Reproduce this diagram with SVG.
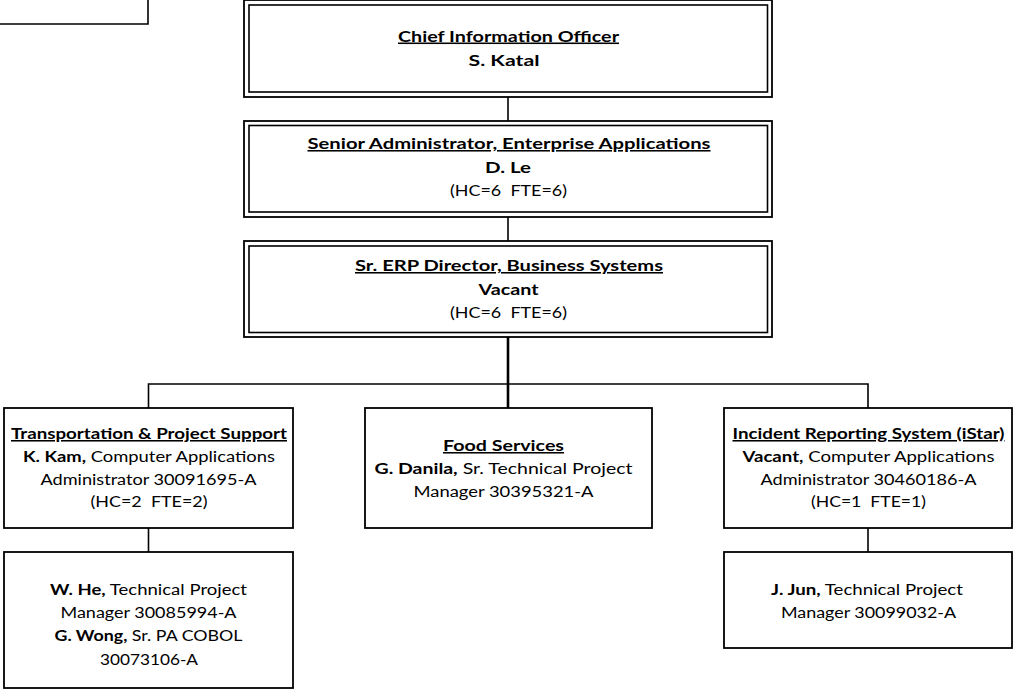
<svg xmlns="http://www.w3.org/2000/svg" width="1013" height="697" viewBox="0 0 1013 697">
<style>
.bx{fill:#fff;stroke:#000;stroke-width:1.8}
.in{fill:none;stroke:#000;stroke-width:1.6}
.cn{fill:none;stroke:#000;stroke-width:1.6}
.tk{fill:none;stroke:#000;stroke-width:2.6}
text{font-family:Lato,"Liberation Sans",sans-serif;font-size:15.5px;fill:#000;text-anchor:middle;white-space:pre}
.b{font-weight:bold}
.u{font-weight:bold;text-decoration:underline}
</style>
<rect width="1013" height="697" fill="#fff"/>
<g id="connectors">
<line class="cn" x1="508" y1="97" x2="508" y2="121"/>
<line class="cn" x1="508" y1="217" x2="508" y2="241"/>
<line class="tk" x1="508" y1="337" x2="508" y2="408"/>
<polyline class="cn" points="148.5,408 148.5,384 868,384 868,408"/>
<line class="cn" x1="148.5" y1="528" x2="148.5" y2="552"/>
<line class="cn" x1="868" y1="528" x2="868" y2="552"/>
</g>
<g id="partial-box">
<polyline class="cn" points="0,24 148,24 148,0"/>
</g>
<g id="cio">
<rect class="bx" x="244" y="0" width="528" height="97"/>
<rect class="in" x="249" y="5" width="518.5" height="87"/>
<text x="508.5" y="41.5" class="u" textLength="221" lengthAdjust="spacingAndGlyphs">Chief Information Officer</text>
<text x="504" y="66" class="b" textLength="71" lengthAdjust="spacingAndGlyphs">S. Katal</text>
</g>
<g id="senior-admin">
<rect class="bx" x="244" y="121" width="528" height="96"/>
<rect class="in" x="249" y="125.5" width="518.5" height="86.5"/>
<text x="509" y="149" class="u" textLength="403" lengthAdjust="spacingAndGlyphs">Senior Administrator, Enterprise Applications</text>
<text x="508" y="173" class="b" textLength="46" lengthAdjust="spacingAndGlyphs">D. Le</text>
<text x="508.5" y="196" textLength="117" lengthAdjust="spacingAndGlyphs">(HC=6  FTE=6)</text>
</g>
<g id="erp-director">
<rect class="bx" x="244" y="241" width="528" height="96"/>
<rect class="in" x="249" y="246" width="518.5" height="86.5"/>
<text x="509" y="271" class="u" textLength="308" lengthAdjust="spacingAndGlyphs">Sr. ERP Director, Business Systems</text>
<text x="508.5" y="295" class="b" textLength="60" lengthAdjust="spacingAndGlyphs">Vacant</text>
<text x="508.5" y="318" textLength="117" lengthAdjust="spacingAndGlyphs">(HC=6  FTE=6)</text>
</g>
<g id="transportation">
<rect class="bx" x="4" y="408" width="289" height="120"/>
<text x="149" y="439" class="u" textLength="276" lengthAdjust="spacingAndGlyphs">Transportation &amp; Project Support</text>
<text x="149" y="461.5" textLength="252" lengthAdjust="spacingAndGlyphs"><tspan class="b">K. Kam,</tspan> Computer Applications</text>
<text x="148.5" y="484.5" textLength="216" lengthAdjust="spacingAndGlyphs">Administrator 30091695-A</text>
<text x="149" y="507" textLength="117" lengthAdjust="spacingAndGlyphs">(HC=2  FTE=2)</text>
</g>
<g id="food-services">
<rect class="bx" x="365" y="408" width="287" height="120"/>
<text x="503.5" y="451" class="u" textLength="121" lengthAdjust="spacingAndGlyphs">Food Services</text>
<text x="503.5" y="474" textLength="258" lengthAdjust="spacingAndGlyphs"><tspan class="b">G. Danila,</tspan> Sr. Technical Project</text>
<text x="503.5" y="497" textLength="180" lengthAdjust="spacingAndGlyphs">Manager 30395321-A</text>
</g>
<g id="incident-reporting">
<rect class="bx" x="724" y="408" width="288" height="120"/>
<text x="868.5" y="439" class="u" textLength="272" lengthAdjust="spacingAndGlyphs">Incident Reporting System (iStar)</text>
<text x="868.5" y="461.5" textLength="252" lengthAdjust="spacingAndGlyphs"><tspan class="b">Vacant,</tspan> Computer Applications</text>
<text x="868.5" y="484.5" textLength="216" lengthAdjust="spacingAndGlyphs">Administrator 30460186-A</text>
<text x="868.5" y="507" textLength="115" lengthAdjust="spacingAndGlyphs">(HC=1  FTE=1)</text>
</g>
<g id="transport-staff">
<rect class="bx" x="4" y="552" width="289" height="136"/>
<text x="148.5" y="594.5" textLength="197" lengthAdjust="spacingAndGlyphs"><tspan class="b">W. He,</tspan> Technical Project</text>
<text x="148.5" y="617.5" textLength="176" lengthAdjust="spacingAndGlyphs">Manager 30085994-A</text>
<text x="148.5" y="640.5" textLength="188" lengthAdjust="spacingAndGlyphs"><tspan class="b">G. Wong,</tspan> Sr. PA COBOL</text>
<text x="149" y="664.5" textLength="98" lengthAdjust="spacingAndGlyphs">30073106-A</text>
</g>
<g id="incident-staff">
<rect class="bx" x="724" y="552" width="288" height="96"/>
<text x="867" y="595" textLength="192" lengthAdjust="spacingAndGlyphs"><tspan class="b">J. Jun,</tspan> Technical Project</text>
<text x="868.5" y="618" textLength="175" lengthAdjust="spacingAndGlyphs">Manager 30099032-A</text>
</g>
</svg>
